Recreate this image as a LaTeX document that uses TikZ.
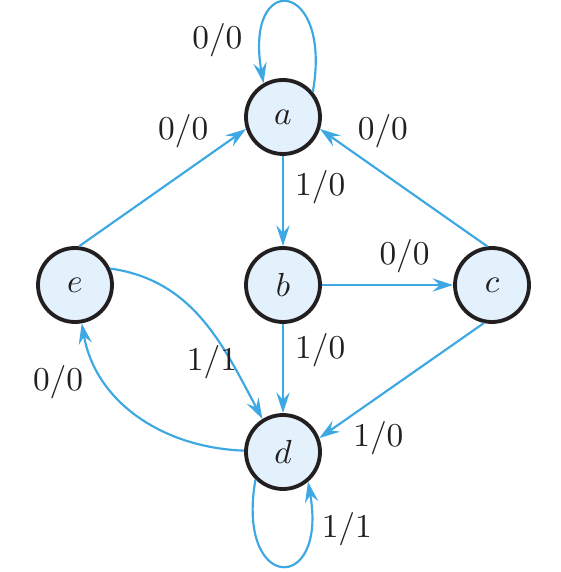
\documentclass[tikz,border=0pt]{standalone}
\usetikzlibrary{arrows.meta}
\definecolor{edgeblue}{RGB}{62,168,226}
\definecolor{statefill}{RGB}{226,241,251}
\definecolor{inkdark}{RGB}{35,31,32}
\begin{document}
\begin{tikzpicture}[x=0.3pt,y=0.3pt,
  state/.style={draw=inkdark, line width=1.15pt, circle, fill=statefill, minimum size=22.2pt, inner sep=0pt, text=inkdark},
  trans/.style={draw=edgeblue, line width=0.65pt, -{Stealth[length=6.2pt,width=4pt,inset=2.2pt]}},
  lbl/.style={text=inkdark}]
\useasboundingbox (0,0) rectangle (561,572);
\node[state] (a) at (283,455) {$a$};
\node[state] (b) at (283,287) {$b$};
\node[state] (c) at (492,287) {$c$};
\node[state] (d) at (283,120) {$d$};
\node[state] (e) at (75,287) {$e$};

\draw[trans] (a.40) .. controls +(80:115) and +(100:115) .. node[lbl, left=2pt, pos=0.85] {0/0} (a.120);
\draw[trans] (a) -- node[lbl, right, pos=0.35] {1/0} (b);
\draw[trans] (b) -- node[lbl, above, pos=0.63] {0/0} (c);
\draw[trans] (b) -- node[lbl, right, pos=0.3] {1/0} (d);
\draw[trans] (c.97) -- node[lbl, anchor=south west, inner sep=1pt, pos=0.8] {0/0} (a.342);
\draw[trans] (e.84) -- node[lbl, anchor=south east, inner sep=1pt, pos=0.8] {0/0} (a.198);
\draw[trans] (c.258) -- node[lbl, anchor=north west, inner sep=1pt, pos=0.82] {1/0} (d.21);
\draw[trans] (e.25) to[out=-8, in=118] node[lbl, anchor=east, inner sep=0pt, xshift=2pt, pos=0.73] {1/1} (d.122);
\draw[trans] (d) to[out=178, in=280] node[lbl, left, xshift=-3pt, pos=0.72] {0/0} (e);
\draw[trans] (d.225) .. controls +(260:115) and +(280:115) .. node[lbl, right, pos=0.83] {1/1} (d.310);
\end{tikzpicture}
\end{document}
